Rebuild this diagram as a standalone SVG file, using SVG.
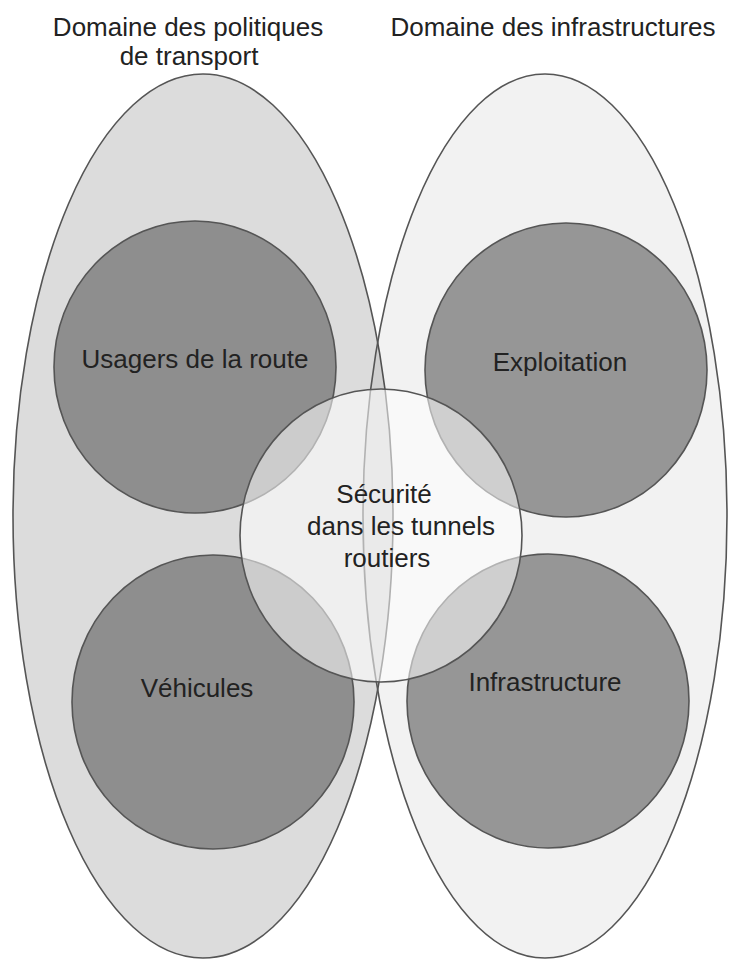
<svg xmlns="http://www.w3.org/2000/svg" width="729" height="961" viewBox="0 0 729 961">
  <style>
    .edge { stroke: #555555; stroke-width: 1.6; }
    .domain-left { fill: #dcdcdc; }
    .domain-right { fill: #000000; fill-opacity: 0.05; }
    .topic-left { fill: #8e8e8e; }
    .topic-right { fill: #969696; }
    .core { fill: #ffffff; fill-opacity: 0.55; }
    text { font-family: "Liberation Sans", Arial, sans-serif; font-size: 26px; fill: #222222; text-anchor: middle; }
  </style>

  <rect width="729" height="961" fill="#ffffff"/>

  <!-- Two policy domains -->
  <g id="domain-transport">
    <ellipse class="domain-left edge" cx="203" cy="516" rx="190" ry="442"/>
  </g>
  <g id="domain-infrastructures">
    <ellipse class="domain-right edge" cx="545" cy="516" rx="182" ry="442"/>
  </g>

  <!-- Four components -->
  <g id="usagers">
    <ellipse class="topic-left edge" cx="195" cy="367" rx="141" ry="146"/>
  </g>
  <g id="vehicules">
    <ellipse class="topic-left edge" cx="213" cy="702" rx="141" ry="147"/>
  </g>
  <g id="exploitation">
    <ellipse class="topic-right edge" cx="566" cy="370" rx="141" ry="147"/>
  </g>
  <g id="infrastructure">
    <ellipse class="topic-right edge" cx="548" cy="701" rx="141" ry="147"/>
  </g>

  <!-- Central topic -->
  <g id="securite">
    <ellipse class="core edge" cx="381" cy="535.5" rx="141" ry="146.5"/>
    <text x="384" y="503">Sécurité</text>
    <text x="401" y="535">dans les tunnels</text>
    <text x="387" y="567">routiers</text>
  </g>

  <!-- Labels -->
  <g id="labels">
    <text x="188" y="36">Domaine des politiques</text>
    <text x="189" y="65">de transport</text>
    <text x="553" y="36">Domaine des infrastructures</text>
    <text x="195" y="368">Usagers de la route</text>
    <text x="560" y="371">Exploitation</text>
    <text x="197" y="697">Véhicules</text>
    <text x="545" y="691">Infrastructure</text>
  </g>
</svg>
